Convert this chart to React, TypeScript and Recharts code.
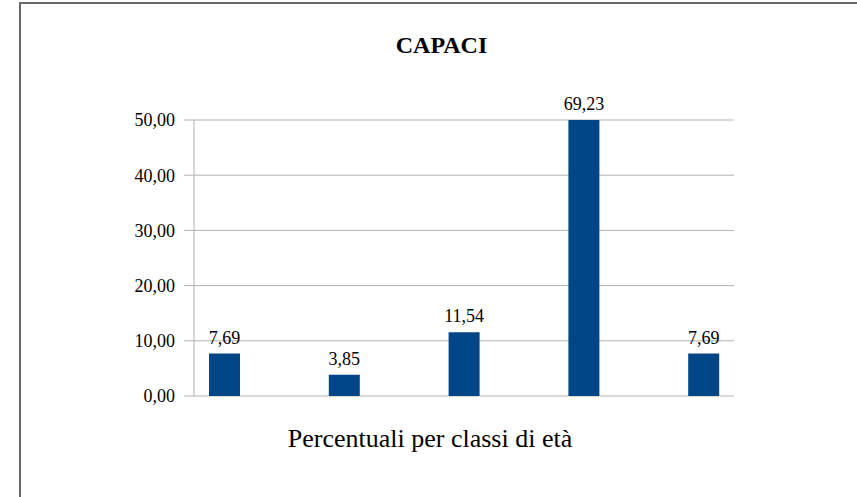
import { BarChart, Bar, XAxis, YAxis, CartesianGrid, LabelList } from 'recharts';

// classi di età (non mostrate sull'asse nel grafico originale)
const categories = ['18-30', '31-45', '46-60', '61-75', 'oltre 75'];
const percentuali = [7.69, 3.85, 11.54, 69.23, 7.69];
const yTicks = [0, 10, 20, 30, 40, 50];
const yMax = 50;

// formato italiano: virgola decimale
const fmt = (v: number) => Number(v).toFixed(2).replace('.', ',');

const FONT = '"Liberation Serif", "DejaVu Serif", serif';
const BLUE = '#004586';
const GRID = '#b3b3b3';

export default function App() {
  // la barra oltre il massimo viene tagliata all'asse, l'etichetta mostra il valore vero
  const data = categories.map((c, i) => ({
    classe: c,
    valore: percentuali[i],
    barra: Math.min(percentuali[i], yMax),
  }));

  return (
    <div style={{ position: 'absolute', left: 0, top: 0, width: 857, height: 497, background: '#fff', overflow: 'hidden', fontFamily: FONT }}>
      {/* cornice */}
      <div style={{ position: 'absolute', left: 19, top: 2, right: 0, bottom: 0, borderLeft: '2px solid #6b6b6b', borderTop: '2px solid #6b6b6b' }} />

      <div style={{ position: 'absolute', left: 0, width: 883, top: 31, textAlign: 'center', fontWeight: 'bold', fontSize: 24, lineHeight: '28px', color: '#000' }}>
        CAPACI
      </div>

      <BarChart
        width={857}
        height={497}
        data={data}
        margin={{ top: 120, right: 123, bottom: 101, left: 0 }}
        style={{ position: 'absolute', left: 0, top: 0, fontFamily: FONT }}
      >
        <CartesianGrid vertical={false} stroke={GRID} strokeWidth={1} />
        <XAxis dataKey="classe" hide padding={{ left: -29, right: -30 }} />
        <YAxis
          domain={[0, yMax]}
          ticks={yTicks}
          allowDataOverflow
          width={194}
          tickSize={10}
          tickMargin={9}
          tickFormatter={fmt}
          stroke={GRID}
          tick={{ fill: '#000', fontSize: 18, style: { fontFamily: FONT } }}
        />
        <YAxis yAxisId="dx" orientation="right" width={0} tick={false} stroke={GRID} domain={[0, yMax]} />
        <Bar dataKey="barra" fill={BLUE} barSize={31} isAnimationActive={false}>
          <LabelList
            dataKey="valore"
            position="top"
            offset={10}
            formatter={(v: any) => fmt(v)}
            fill="#000"
            fontSize={18}
            style={{ fontFamily: FONT }}
          />
        </Bar>
      </BarChart>

      <div style={{ position: 'absolute', left: 0, width: 860, top: 424, textAlign: 'center', fontSize: 26, lineHeight: '30px', color: '#000' }}>
        Percentuali per classi di età
      </div>
    </div>
  );
}
